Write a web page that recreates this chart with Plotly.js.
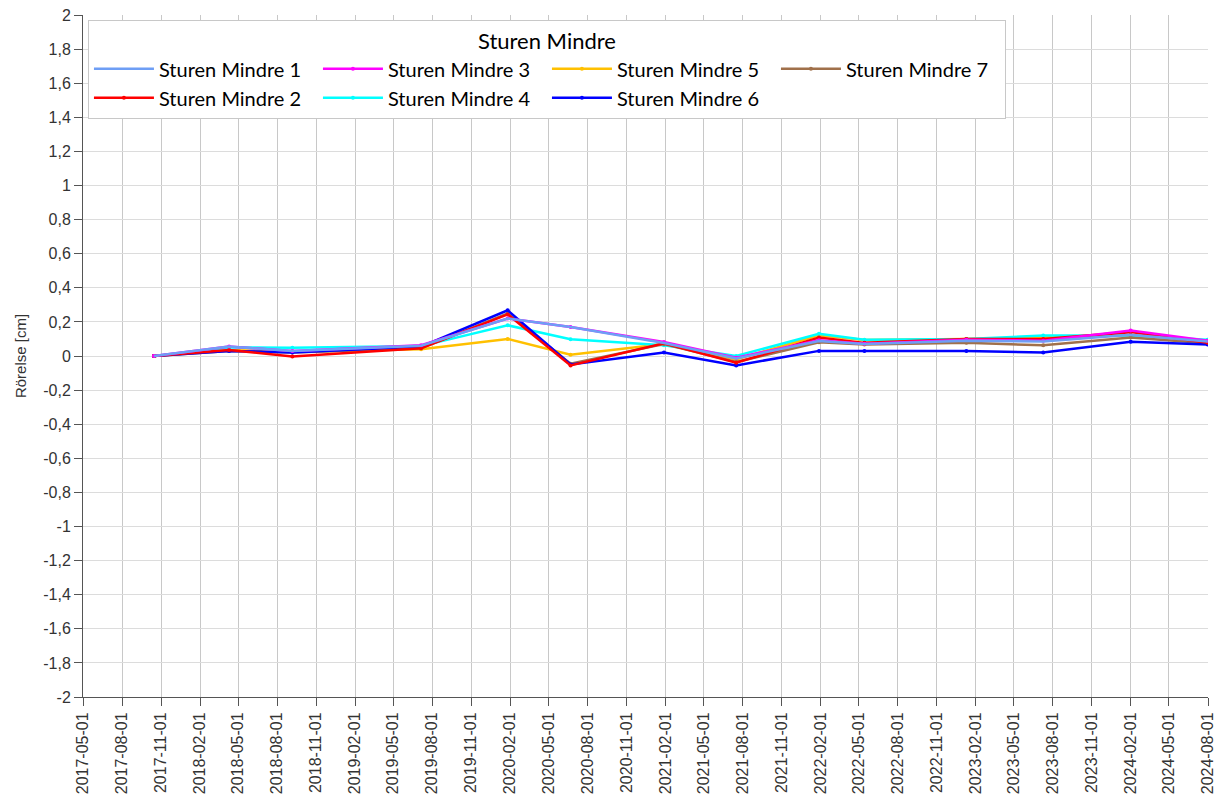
<!DOCTYPE html>
<html>
<head>
<meta charset="utf-8">
<script src="https://cdn.plot.ly/plotly-3.0.1.min.js"></script>
<style>html,body{margin:0;padding:0;background:#fff;}#chart{width:1219px;height:804px;}</style>
</head>
<body>
<div id="chart"></div>
<script>
const dates = ["2017-10-15","2018-04-10","2018-09-06","2019-07-06","2020-01-26","2020-06-22","2021-01-28","2021-07-17","2022-01-28","2022-05-15","2023-01-10","2023-07-10","2024-02-01","2024-07-31"];
const sm1 = [0, 0.055, 0.03, 0.06, 0.22, 0.17, 0.076, -0.015, 0.088, 0.07, 0.09, 0.085, 0.125, 0.085];
const sm2 = [0, 0.035, -0.003, 0.045, 0.244, -0.055, 0.075, -0.04, 0.108, 0.077, 0.1, 0.1, 0.14, 0.077];
const sm3 = [0, 0.055, 0.03, 0.063, 0.22, 0.17, 0.082, -0.01, 0.092, 0.072, 0.095, 0.09, 0.15, 0.09];
const sm4 = [0, 0.05, 0.048, 0.058, 0.18, 0.098, 0.063, 0, 0.13, 0.096, 0.1, 0.12, 0.12, 0.095];
const sm5 = [0, 0.035, 0.025, 0.04, 0.1, 0.008, 0.07, -0.02, 0.122, 0.094, 0.1, 0.108, 0.12, 0.09];
const sm6 = [0, 0.03, 0.02, 0.055, 0.268, -0.05, 0.02, -0.055, 0.03, 0.03, 0.03, 0.02, 0.083, 0.068];
const sm7 = [0, 0.03, 0.02, 0.045, 0.25, -0.045, 0.07, -0.035, 0.08, 0.068, 0.077, 0.063, 0.108, 0.075];
const seriesNames = ["Sturen Mindre 1","Sturen Mindre 2","Sturen Mindre 3","Sturen Mindre 4","Sturen Mindre 5","Sturen Mindre 6","Sturen Mindre 7"];
const seriesValues = [sm1, sm2, sm3, sm4, sm5, sm6, sm7];
const tickDates = ["2017-05-01","2017-08-01","2017-11-01","2018-02-01","2018-05-01","2018-08-01","2018-11-01","2019-02-01","2019-05-01","2019-08-01","2019-11-01","2020-02-01","2020-05-01","2020-08-01","2020-11-01","2021-02-01","2021-05-01","2021-08-01","2021-11-01","2022-02-01","2022-05-01","2022-08-01","2022-11-01","2023-02-01","2023-05-01","2023-08-01","2023-11-01","2024-02-01","2024-05-01","2024-08-01"];
const yTickVals = [-2,-1.8,-1.6,-1.4,-1.2,-1,-0.8,-0.6,-0.4,-0.2,0,0.2,0.4,0.6,0.8,1,1.2,1.4,1.6,1.8,2];
const yTickText = ["-2","-1,8","-1,6","-1,4","-1,2","-1","-0,8","-0,6","-0,4","-0,2","0","0,2","0,4","0,6","0,8","1","1,2","1,4","1,6","1,8","2"];
const chartTitle = "Sturen Mindre";
const yTitle = "Rörelse [cm]";

const colors = ["#6E9EF5","#FF0000","#FF00FF","#00FFFF","#FFC000","#0000FF","#A0704A"];
const ranks = [1,5,2,6,3,7,4];
const drawOrder = [4,3,6,5,1,2,0];

const traces = drawOrder.map(i => ({
  x: dates,
  y: seriesValues[i],
  name: seriesNames[i],
  type: "scatter",
  mode: i === 0 ? "lines" : "lines+markers",
  line: {color: colors[i], width: 2.5},
  marker: {color: colors[i], size: 4},
  legendrank: ranks[i]
}));

const layout = {
  width: 1219, height: 804,
  margin: {l: 83, r: 11, t: 15, b: 107},
  paper_bgcolor: "#fff", plot_bgcolor: "#fff",
  separators: ",.",
  font: {family: "Liberation Sans, Arial, sans-serif", color: "#333"},
  showlegend: true,
  legend: {
    x: 0.0044, y: 0.993, xanchor: "left", yanchor: "top",
    orientation: "h",
    bgcolor: "#fff", bordercolor: "#c8c8c8", borderwidth: 1,
    font: {family: "Lato, Open Sans, sans-serif", size: 20, color: "#000"},
    itemwidth: 60,
    entrywidth: 154,
    title: {text: chartTitle, side: "top center", font: {family: "Lato, Open Sans, sans-serif", size: 22, color: "#000"}}
  },
  xaxis: {
    type: "date",
    range: ["2017-05-01","2024-08-01"],
    tickmode: "array",
    tickvals: tickDates,
    ticktext: tickDates,
    tickangle: -90,
    ticks: "outside", ticklen: 8, tickcolor: "#555",
    showline: true, linecolor: "#555", linewidth: 1,
    showgrid: true, gridcolor: "#c8c8c8", gridwidth: 1,
    zeroline: false,
    tickfont: {size: 16, color: "#333"}
  },
  yaxis: {
    range: [-2, 2],
    tickmode: "array",
    tickvals: yTickVals,
    ticktext: yTickText,
    ticks: "outside", ticklen: 8, tickcolor: "#555",
    showline: true, linecolor: "#555", linewidth: 1,
    showgrid: true, gridcolor: "#dcdcdc", gridwidth: 1,
    zeroline: false,
    tickfont: {size: 16, color: "#333"},
    title: {text: yTitle, font: {size: 15, color: "#333"}, standoff: 12}
  }
};

Plotly.newPlot("chart", traces, layout, {displayModeBar: false, staticPlot: true});
</script>
</body>
</html>
